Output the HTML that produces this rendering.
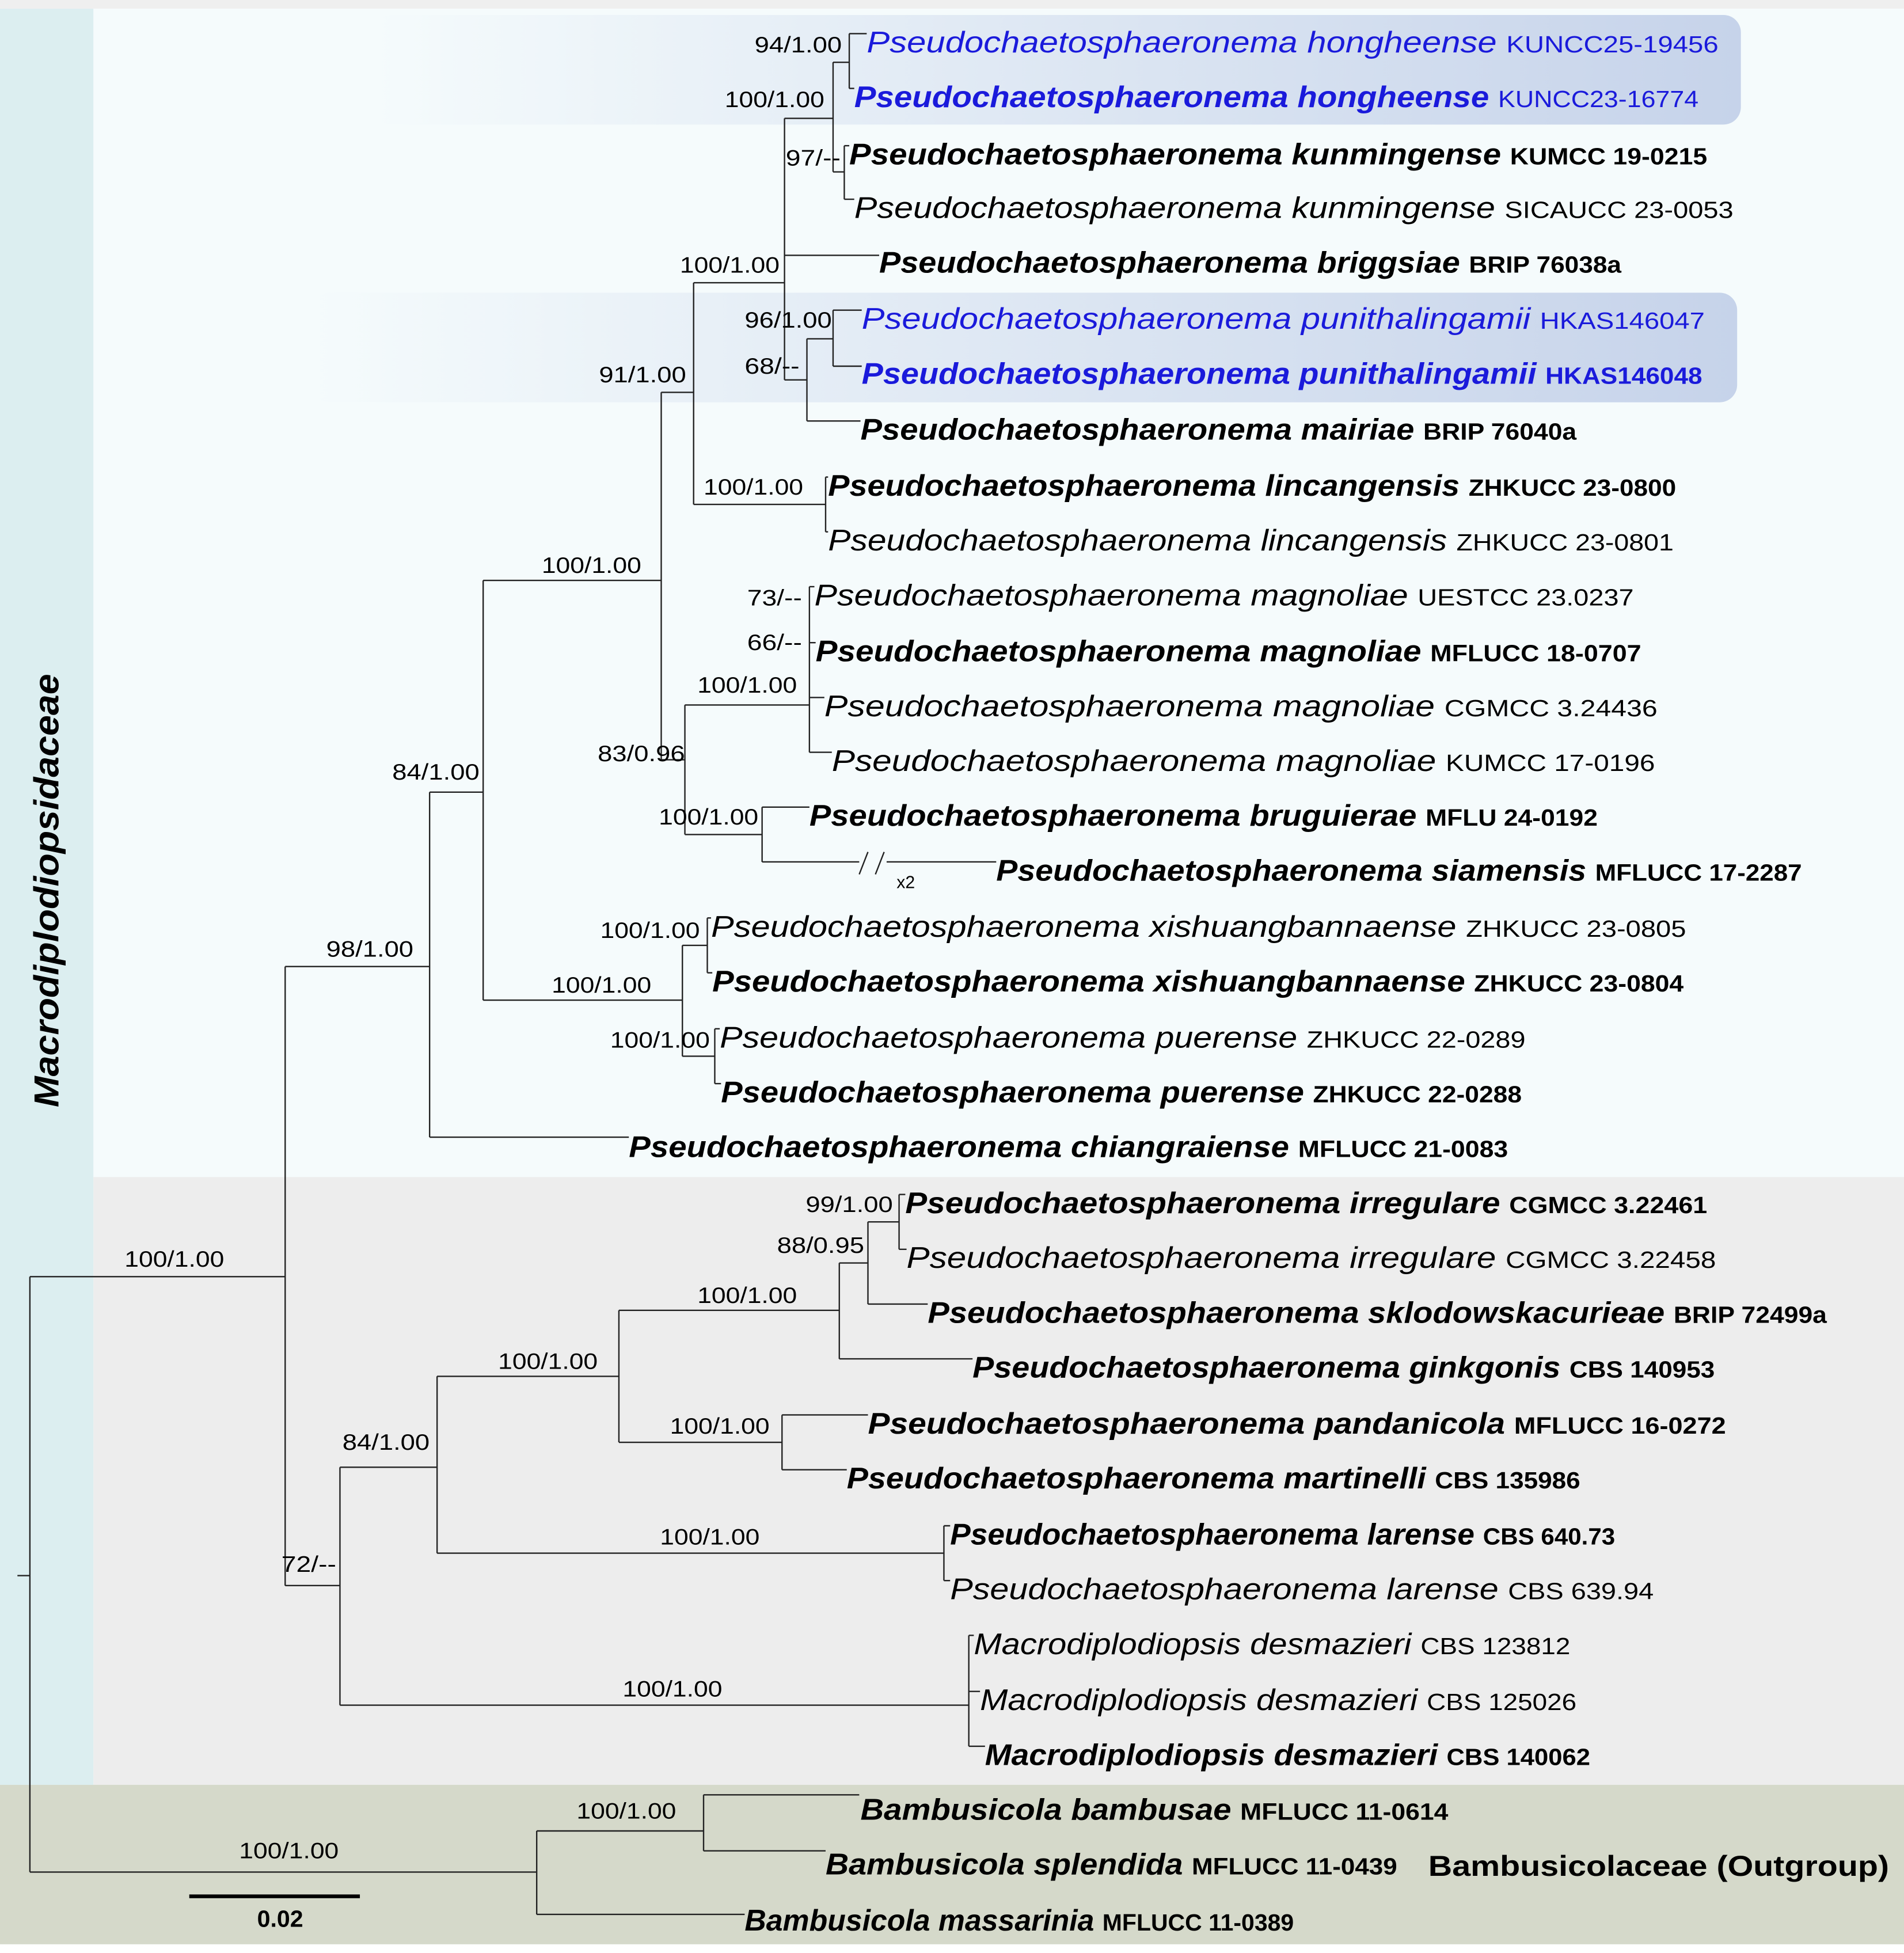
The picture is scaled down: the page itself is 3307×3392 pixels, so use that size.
<!DOCTYPE html>
<html><head><meta charset="utf-8"><style>html,body{margin:0;padding:0;background:#fff}svg{display:block}
text{font-family:"Liberation Sans",sans-serif}
.t{font-size:24px;font-style:italic}
.s{font-size:19px;font-style:normal}
.b{font-weight:bold}
.bl{fill:#1a1adb}
.n{font-size:18px;text-anchor:middle}
</style></head><body>
<svg width="3307" height="3392" viewBox="0 0 1529 1568" preserveAspectRatio="none" xmlns="http://www.w3.org/2000/svg">
<defs>
<linearGradient id="g" x1="0" x2="1" y1="0" y2="0"><stop offset="0" stop-color="#c6d3ea" stop-opacity="0"/><stop offset="1" stop-color="#c6d3ea"/></linearGradient>
</defs>
<rect x="0" y="0" width="1529" height="1568" fill="#fff"/>
<rect x="0" y="0" width="1529" height="7" fill="#efefef"/>
<rect x="75" y="7" width="1454" height="938" fill="#f5fbfc"/>
<rect x="75" y="945" width="1454" height="488" fill="#ededed"/>
<rect x="0" y="7" width="75" height="1426" fill="#dceef0"/>
<rect x="0" y="1433" width="1529" height="128" fill="#d5d9ca"/>
<rect x="300" y="12" width="1098" height="88" rx="14" fill="url(#g)"/>
<rect x="250" y="235" width="1145" height="88" rx="14" fill="url(#g)"/>
<text x="0" y="0" transform="translate(47,715) rotate(-90)" text-anchor="middle" style="font-size:28px;font-style:italic;font-weight:bold" textLength="348" lengthAdjust="spacingAndGlyphs">Macrodiplodiopsidaceae</text>
<path fill="none" stroke="#222" stroke-width="1.1" d="
M24 1025V1503M14 1265H24M24 1025H229M24 1503H431
M229 776V1273M229 776H345M229 1273H273
M345 636V913M345 636H388M345 913H505
M388 466V803M388 466H531M388 803H548
M531 315V610M531 315H557M531 610H550
M557 227V405M557 227H630M557 405H663
M630 95V305M630 95H669M630 205H706M630 305H648
M669 50V138M669 50H682M669 138H678
M682 27V71M682 27H696M682 71H686
M678 117V160M678 117H682M678 160H686
M648 272V338M648 272H669M648 338H691
M669 249V294M669 249H692M669 294H692
M663 383V427M663 383H665M663 427H665
M550 566V670M550 566H650M550 670H612
M650 471V604M650 471H654M650 516H655M650 560H662M650 604H668
M612 648V692M612 648H650M612 692H690M712 692H800
M690 702L697 684M703 702L710 684
M548 759V848M548 759H568M548 848H574
M568 737V781M568 737H571M568 781H572
M574 826V870M574 826H578M574 870H579
M273 1178V1369M273 1178H351M273 1369H778
M778 1313V1402M778 1313H782M778 1358H787M778 1402H791
M351 1105V1247M351 1105H497M351 1247H758
M758 1225V1269M758 1225H763M758 1269H763
M497 1052V1158M497 1052H674M497 1158H628
M628 1136V1180M628 1136H697M628 1180H680
M674 1014V1091M674 1014H697M674 1091H781
M697 981V1047M697 981H722M697 1047H745
M722 959V1003M722 959H727M722 1003H728
M431 1470V1537M431 1470H565M431 1537H598
M565 1441V1486M565 1441H690M565 1486H663"/>
<rect x="152" y="1521" width="137" height="3" fill="#000"/>
<text x="225" y="1547" style="font-size:19px;font-weight:bold" text-anchor="middle">0.02</text>
<text x="720" y="713" style="font-size:14px">x2</text>

<!-- taxa -->
<text x="696" y="42" class="t bl" textLength="684" lengthAdjust="spacingAndGlyphs">Pseudochaetosphaeronema hongheense <tspan class="s">KUNCC25-19456</tspan></text>
<text x="686" y="86" class="t b bl" textLength="678" lengthAdjust="spacingAndGlyphs">Pseudochaetosphaeronema hongheense <tspan class="s" font-weight="normal">KUNCC23-16774</tspan></text>
<text x="682" y="132" class="t b" textLength="689" lengthAdjust="spacingAndGlyphs">Pseudochaetosphaeronema kunmingense <tspan class="s">KUMCC 19-0215</tspan></text>
<text x="686" y="175" class="t" textLength="706" lengthAdjust="spacingAndGlyphs">Pseudochaetosphaeronema kunmingense <tspan class="s">SICAUCC 23-0053</tspan></text>
<text x="706" y="219" class="t b" textLength="596" lengthAdjust="spacingAndGlyphs">Pseudochaetosphaeronema briggsiae <tspan class="s">BRIP 76038a</tspan></text>
<text x="692" y="264" class="t bl" textLength="677" lengthAdjust="spacingAndGlyphs">Pseudochaetosphaeronema punithalingamii <tspan class="s">HKAS146047</tspan></text>
<text x="692" y="308" class="t b bl" textLength="675" lengthAdjust="spacingAndGlyphs">Pseudochaetosphaeronema punithalingamii <tspan class="s">HKAS146048</tspan></text>
<text x="691" y="353" class="t b" textLength="575" lengthAdjust="spacingAndGlyphs">Pseudochaetosphaeronema mairiae <tspan class="s">BRIP 76040a</tspan></text>
<text x="665" y="398" class="t b" textLength="681" lengthAdjust="spacingAndGlyphs">Pseudochaetosphaeronema lincangensis <tspan class="s">ZHKUCC 23-0800</tspan></text>
<text x="665" y="442" class="t" textLength="679" lengthAdjust="spacingAndGlyphs">Pseudochaetosphaeronema lincangensis <tspan class="s">ZHKUCC 23-0801</tspan></text>
<text x="654" y="486" class="t" textLength="658" lengthAdjust="spacingAndGlyphs">Pseudochaetosphaeronema magnoliae <tspan class="s">UESTCC 23.0237</tspan></text>
<text x="655" y="531" class="t b" textLength="663" lengthAdjust="spacingAndGlyphs">Pseudochaetosphaeronema magnoliae <tspan class="s">MFLUCC 18-0707</tspan></text>
<text x="662" y="575" class="t" textLength="669" lengthAdjust="spacingAndGlyphs">Pseudochaetosphaeronema magnoliae <tspan class="s">CGMCC 3.24436</tspan></text>
<text x="668" y="619" class="t" textLength="661" lengthAdjust="spacingAndGlyphs">Pseudochaetosphaeronema magnoliae <tspan class="s">KUMCC 17-0196</tspan></text>
<text x="650" y="663" class="t b" textLength="633" lengthAdjust="spacingAndGlyphs">Pseudochaetosphaeronema bruguierae <tspan class="s">MFLU 24-0192</tspan></text>
<text x="800" y="707" class="t b" textLength="647" lengthAdjust="spacingAndGlyphs">Pseudochaetosphaeronema siamensis <tspan class="s">MFLUCC 17-2287</tspan></text>
<text x="571" y="752" class="t" textLength="783" lengthAdjust="spacingAndGlyphs">Pseudochaetosphaeronema xishuangbannaense <tspan class="s">ZHKUCC 23-0805</tspan></text>
<text x="572" y="796" class="t b" textLength="780" lengthAdjust="spacingAndGlyphs">Pseudochaetosphaeronema xishuangbannaense <tspan class="s">ZHKUCC 23-0804</tspan></text>
<text x="578" y="841" class="t" textLength="647" lengthAdjust="spacingAndGlyphs">Pseudochaetosphaeronema puerense <tspan class="s">ZHKUCC 22-0289</tspan></text>
<text x="579" y="885" class="t b" textLength="643" lengthAdjust="spacingAndGlyphs">Pseudochaetosphaeronema puerense <tspan class="s">ZHKUCC 22-0288</tspan></text>
<text x="505" y="929" class="t b" textLength="706" lengthAdjust="spacingAndGlyphs">Pseudochaetosphaeronema chiangraiense <tspan class="s">MFLUCC 21-0083</tspan></text>
<text x="727" y="974" class="t b" textLength="644" lengthAdjust="spacingAndGlyphs">Pseudochaetosphaeronema irregulare <tspan class="s">CGMCC 3.22461</tspan></text>
<text x="728" y="1018" class="t" textLength="650" lengthAdjust="spacingAndGlyphs">Pseudochaetosphaeronema irregulare <tspan class="s">CGMCC 3.22458</tspan></text>
<text x="745" y="1062" class="t b" textLength="722" lengthAdjust="spacingAndGlyphs">Pseudochaetosphaeronema sklodowskacurieae <tspan class="s">BRIP 72499a</tspan></text>
<text x="781" y="1106" class="t b" textLength="596" lengthAdjust="spacingAndGlyphs">Pseudochaetosphaeronema ginkgonis <tspan class="s">CBS 140953</tspan></text>
<text x="697" y="1151" class="t b" textLength="689" lengthAdjust="spacingAndGlyphs">Pseudochaetosphaeronema pandanicola <tspan class="s">MFLUCC 16-0272</tspan></text>
<text x="680" y="1195" class="t b" textLength="589" lengthAdjust="spacingAndGlyphs">Pseudochaetosphaeronema martinelli <tspan class="s">CBS 135986</tspan></text>
<text x="763" y="1240" class="t b" textLength="534" lengthAdjust="spacingAndGlyphs">Pseudochaetosphaeronema larense <tspan class="s">CBS 640.73</tspan></text>
<text x="763" y="1284" class="t" textLength="565" lengthAdjust="spacingAndGlyphs">Pseudochaetosphaeronema larense <tspan class="s">CBS 639.94</tspan></text>
<text x="782" y="1328" class="t" textLength="479" lengthAdjust="spacingAndGlyphs">Macrodiplodiopsis desmazieri <tspan class="s">CBS 123812</tspan></text>
<text x="787" y="1373" class="t" textLength="479" lengthAdjust="spacingAndGlyphs">Macrodiplodiopsis desmazieri <tspan class="s">CBS 125026</tspan></text>
<text x="791" y="1417" class="t b" textLength="486" lengthAdjust="spacingAndGlyphs">Macrodiplodiopsis desmazieri <tspan class="s">CBS 140062</tspan></text>
<text x="691" y="1461" class="t b" textLength="472" lengthAdjust="spacingAndGlyphs">Bambusicola bambusae <tspan class="s">MFLUCC 11-0614</tspan></text>
<text x="663" y="1505" class="t b" textLength="459" lengthAdjust="spacingAndGlyphs">Bambusicola splendida <tspan class="s">MFLUCC 11-0439</tspan></text>
<text x="598" y="1550" class="t b" textLength="441" lengthAdjust="spacingAndGlyphs">Bambusicola massarinia <tspan class="s">MFLUCC 11-0389</tspan></text>
<text x="1147" y="1506" style="font-size:23px;font-weight:bold" textLength="370" lengthAdjust="spacingAndGlyphs">Bambusicolaceae (Outgroup)</text>

<!-- support values -->
<g class="n">
<text class="n" x="641" y="42" textLength="70" lengthAdjust="spacingAndGlyphs">94/1.00</text>
<text class="n" x="622" y="86" textLength="80" lengthAdjust="spacingAndGlyphs">100/1.00</text>
<text class="n" x="653" y="133" textLength="44" lengthAdjust="spacingAndGlyphs">97/--</text>
<text class="n" x="586" y="219" textLength="80" lengthAdjust="spacingAndGlyphs">100/1.00</text>
<text class="n" x="633" y="263" textLength="70" lengthAdjust="spacingAndGlyphs">96/1.00</text>
<text class="n" x="620" y="300" textLength="44" lengthAdjust="spacingAndGlyphs">68/--</text>
<text class="n" x="516" y="307" textLength="70" lengthAdjust="spacingAndGlyphs">91/1.00</text>
<text class="n" x="605" y="397" textLength="80" lengthAdjust="spacingAndGlyphs">100/1.00</text>
<text class="n" x="475" y="460" textLength="80" lengthAdjust="spacingAndGlyphs">100/1.00</text>
<text class="n" x="622" y="486" textLength="44" lengthAdjust="spacingAndGlyphs">73/--</text>
<text class="n" x="622" y="522" textLength="44" lengthAdjust="spacingAndGlyphs">66/--</text>
<text class="n" x="600" y="556" textLength="80" lengthAdjust="spacingAndGlyphs">100/1.00</text>
<text class="n" x="515" y="611" textLength="70" lengthAdjust="spacingAndGlyphs">83/0.96</text>
<text class="n" x="350" y="626" textLength="70" lengthAdjust="spacingAndGlyphs">84/1.00</text>
<text class="n" x="569" y="662" textLength="80" lengthAdjust="spacingAndGlyphs">100/1.00</text>
<text class="n" x="522" y="753" textLength="80" lengthAdjust="spacingAndGlyphs">100/1.00</text>
<text class="n" x="297" y="768" textLength="70" lengthAdjust="spacingAndGlyphs">98/1.00</text>
<text class="n" x="483" y="797" textLength="80" lengthAdjust="spacingAndGlyphs">100/1.00</text>
<text class="n" x="530" y="841" textLength="80" lengthAdjust="spacingAndGlyphs">100/1.00</text>
<text class="n" x="682" y="973" textLength="70" lengthAdjust="spacingAndGlyphs">99/1.00</text>
<text class="n" x="659" y="1006" textLength="70" lengthAdjust="spacingAndGlyphs">88/0.95</text>
<text class="n" x="140" y="1017" textLength="80" lengthAdjust="spacingAndGlyphs">100/1.00</text>
<text class="n" x="600" y="1046" textLength="80" lengthAdjust="spacingAndGlyphs">100/1.00</text>
<text class="n" x="440" y="1099" textLength="80" lengthAdjust="spacingAndGlyphs">100/1.00</text>
<text class="n" x="578" y="1151" textLength="80" lengthAdjust="spacingAndGlyphs">100/1.00</text>
<text class="n" x="310" y="1164" textLength="70" lengthAdjust="spacingAndGlyphs">84/1.00</text>
<text class="n" x="570" y="1240" textLength="80" lengthAdjust="spacingAndGlyphs">100/1.00</text>
<text class="n" x="248" y="1262" textLength="44" lengthAdjust="spacingAndGlyphs">72/--</text>
<text class="n" x="540" y="1362" textLength="80" lengthAdjust="spacingAndGlyphs">100/1.00</text>
<text class="n" x="503" y="1460" textLength="80" lengthAdjust="spacingAndGlyphs">100/1.00</text>
<text class="n" x="232" y="1492" textLength="80" lengthAdjust="spacingAndGlyphs">100/1.00</text>
</g>
</svg>
</body></html>
